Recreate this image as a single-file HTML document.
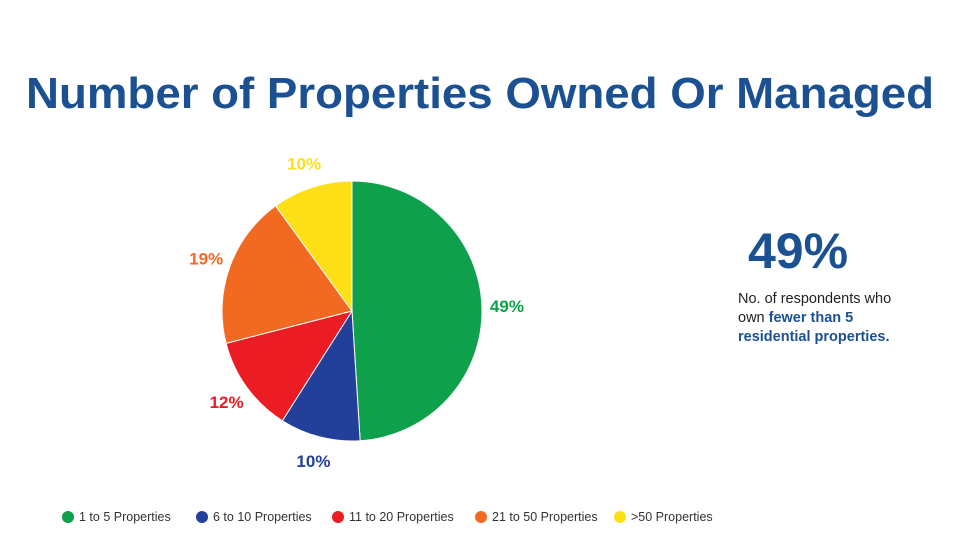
<!DOCTYPE html>
<html><head><meta charset="utf-8"><style>
body{margin:0;background:#fff;width:960px;height:540px;overflow:hidden;font-family:"Liberation Sans",sans-serif}
</style></head><body>
<svg id="chart" width="960" height="540">
<text x="480" y="108" text-anchor="middle" font-size="44" font-weight="bold" fill="#1b5192" textLength="908" lengthAdjust="spacingAndGlyphs">Number of Properties Owned Or Managed</text>
<g id="pie"></g>
<g id="legend"></g>
<text x="748" y="268" font-size="50" font-weight="bold" fill="#1b5192">49%</text>
<text x="738" y="303" font-size="14.5" fill="#222">No. of respondents who</text>
<text x="738" y="322" font-size="14.5" fill="#222">own <tspan font-weight="bold" fill="#1b5192">fewer than 5</tspan></text>
<text x="738" y="341" font-size="14.5" font-weight="bold" fill="#1b5192">residential properties.</text>
</svg>
<script>
const categories=["1 to 5 Properties","6 to 10 Properties","11 to 20 Properties","21 to 50 Properties",">50 Properties"];
const values=[49,10,12,19,10];
const colors=["#0ea04a","#22409a","#ec1c24","#f26a22","#fddf16"];
const legendX=[68,202,338,481,620];
const NS="http://www.w3.org/2000/svg";
const cx=352,cy=311,R=130,LR=155;
const pie=document.getElementById('pie');
const total=values.reduce((a,b)=>a+b,0);
let acc=0;
function pt(a,r){return [cx+r*Math.sin(a),cy-r*Math.cos(a)];}
values.forEach((v,i)=>{
  const a0=acc/total*2*Math.PI;acc+=v;const a1=acc/total*2*Math.PI;
  const p0=pt(a0,R),p1=pt(a1,R);
  const path=document.createElementNS(NS,'path');
  path.setAttribute('d',`M${cx},${cy}L${p0[0]},${p0[1]}A${R},${R} 0 ${a1-a0>Math.PI?1:0} 1 ${p1[0]},${p1[1]}Z`);
  path.setAttribute('fill',colors[i]);
  path.setAttribute('stroke','#fff');path.setAttribute('stroke-width','1');
  
  
  pie.appendChild(path);
  const m=pt((a0+a1)/2,LR);
  const t=document.createElementNS(NS,'text');
  t.setAttribute('x',m[0]);t.setAttribute('y',m[1]+6);
  t.setAttribute('text-anchor','middle');t.setAttribute('font-size','17');
  t.setAttribute('font-weight','bold');t.setAttribute('fill',colors[i]);
  t.textContent=v+'%';
  
  
  pie.appendChild(t);
});
const lg=document.getElementById('legend');
categories.forEach((c,i)=>{
  const ci=document.createElementNS(NS,'circle');
  ci.setAttribute('cx',legendX[i]);ci.setAttribute('cy',517);ci.setAttribute('r',6);
  ci.setAttribute('fill',colors[i]);
  
  
  lg.appendChild(ci);
  const t=document.createElementNS(NS,'text');
  t.setAttribute('x',legendX[i]+11);t.setAttribute('y',521);
  t.setAttribute('font-size','12.5');t.setAttribute('fill','#333');
  t.textContent=c;
  
  
  lg.appendChild(t);
});
</script>
</body></html>
